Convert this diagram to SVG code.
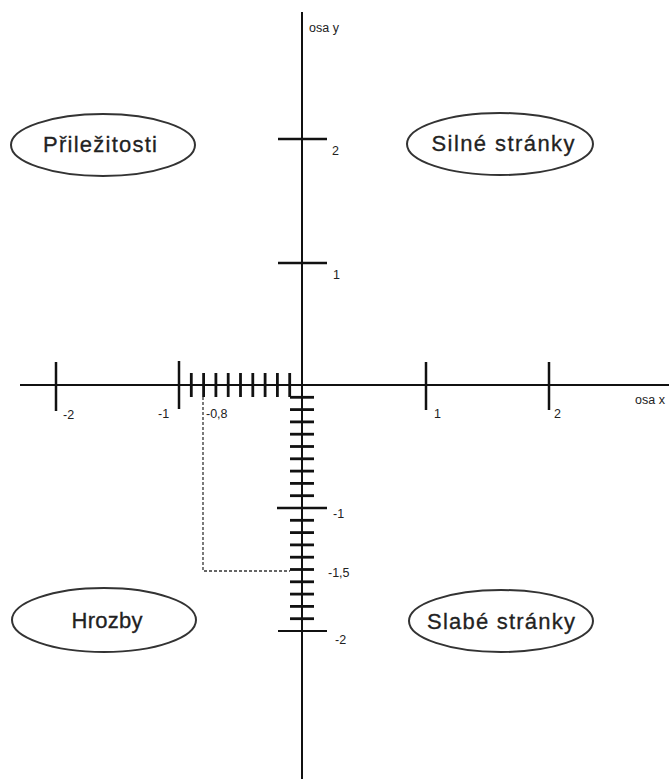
<svg xmlns="http://www.w3.org/2000/svg" width="669" height="782" viewBox="0 0 669 782">
<style>
.ax{stroke:#111;stroke-width:2;fill:none}
.mj{stroke:#111;stroke-width:2.5}
.mn{stroke:#111;stroke-width:2.8}
.dash{stroke:#333;stroke-width:1.3;stroke-dasharray:3 2;fill:none}
.el{fill:#fff;stroke:#333;stroke-width:2}
.lab{font-family:"Liberation Sans",Arial,sans-serif;font-size:12.5px;fill:#222}
.nt{font-family:"Liberation Sans",Arial,sans-serif;font-size:22px;fill:#222;stroke:#222;stroke-width:0.3;text-anchor:middle}
</style>
<rect width="669" height="782" fill="#fff"/>
<g id="connectors">
<line class="ax" x1="302" y1="12" x2="302" y2="779"/>
<line class="ax" x1="20" y1="385" x2="669" y2="385"/>
<path class="dash" d="M203 397 V571 H290"/>
<line class="mj" x1="56" y1="362" x2="56" y2="411"/>
<line class="mj" x1="179" y1="361" x2="179" y2="409"/>
<line class="mj" x1="426" y1="362" x2="426" y2="410"/>
<line class="mj" x1="549" y1="362" x2="549" y2="410"/>
<g class="mn">
<line x1="191.3" y1="373" x2="191.3" y2="397"/>
<line x1="203.6" y1="373" x2="203.6" y2="397"/>
<line x1="215.9" y1="373" x2="215.9" y2="397"/>
<line x1="228.2" y1="373" x2="228.2" y2="397"/>
<line x1="240.5" y1="373" x2="240.5" y2="397"/>
<line x1="252.8" y1="373" x2="252.8" y2="397"/>
<line x1="265.1" y1="373" x2="265.1" y2="397"/>
<line x1="277.4" y1="373" x2="277.4" y2="397"/>
<line x1="289.7" y1="373" x2="289.7" y2="397"/>
</g>
<line class="mj" x1="278" y1="139" x2="327" y2="139"/>
<line class="mj" x1="278" y1="263" x2="327" y2="263"/>
<line class="mj" x1="277" y1="508" x2="327" y2="508"/>
<line class="ax" x1="278" y1="631" x2="327" y2="631"/>
<g class="mn">
<line x1="290" y1="397.3" x2="314" y2="397.3"/>
<line x1="290" y1="409.6" x2="314" y2="409.6"/>
<line x1="290" y1="421.9" x2="314" y2="421.9"/>
<line x1="290" y1="434.2" x2="314" y2="434.2"/>
<line x1="290" y1="446.5" x2="314" y2="446.5"/>
<line x1="290" y1="458.8" x2="314" y2="458.8"/>
<line x1="290" y1="471.1" x2="314" y2="471.1"/>
<line x1="290" y1="483.4" x2="314" y2="483.4"/>
<line x1="290" y1="495.7" x2="314" y2="495.7"/>
<line x1="290" y1="520.3" x2="314" y2="520.3"/>
<line x1="290" y1="532.6" x2="314" y2="532.6"/>
<line x1="290" y1="544.9" x2="314" y2="544.9"/>
<line x1="290" y1="557.2" x2="314" y2="557.2"/>
<line x1="290" y1="569.5" x2="314" y2="569.5"/>
<line x1="290" y1="581.8" x2="314" y2="581.8"/>
<line x1="290" y1="594.1" x2="314" y2="594.1"/>
<line x1="290" y1="606.4" x2="314" y2="606.4"/>
<line x1="290" y1="618.7" x2="314" y2="618.7"/>
</g>
</g>
<g id="labels">
<text class="lab" x="309" y="32">osa y</text>
<text class="lab" x="332" y="155">2</text>
<text class="lab" x="333" y="279">1</text>
<text class="lab" x="333" y="518">-1</text>
<text class="lab" x="328" y="577">-1,5</text>
<text class="lab" x="335" y="644">-2</text>
<text class="lab" x="63" y="419">-2</text>
<text class="lab" x="158" y="418">-1</text>
<text class="lab" x="206" y="418">-0,8</text>
<text class="lab" x="434" y="418">1</text>
<text class="lab" x="554" y="418">2</text>
<text class="lab" x="635" y="404">osa x</text>
</g>
<g id="prilezitosti">
<ellipse class="el" cx="103" cy="145" rx="92" ry="31"/>
<text class="nt" x="100" y="152" textLength="114" lengthAdjust="spacing">Přiležitosti</text>
</g>
<g id="silne">
<ellipse class="el" cx="500" cy="144" rx="93" ry="31"/>
<text class="nt" x="503" y="151" textLength="143" lengthAdjust="spacing">Silné  stránky</text>
</g>
<g id="hrozby">
<ellipse class="el" cx="104" cy="620" rx="92" ry="32"/>
<text class="nt" x="107" y="628" textLength="71" lengthAdjust="spacing">Hrozby</text>
</g>
<g id="slabe">
<ellipse class="el" cx="501" cy="621" rx="92" ry="31"/>
<text class="nt" x="501" y="629" textLength="148" lengthAdjust="spacing">Slabé  stránky</text>
</g>
</svg>
